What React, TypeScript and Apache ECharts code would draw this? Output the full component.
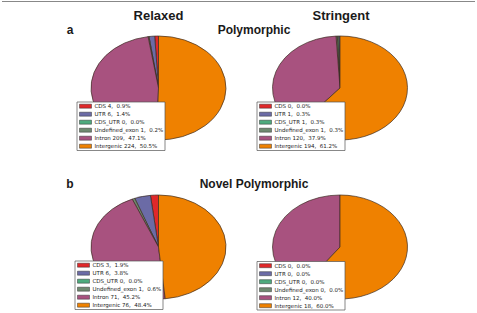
import React, { useEffect, useRef } from "react";
import * as echarts from "echarts";

const categories = ["CDS", "UTR", "CDS_UTR", "Undefined_exon", "Intron", "Intergenic"];
const relaxedPoly = [4, 6, 0, 1, 209, 224];
const stringentPoly = [0, 1, 1, 1, 120, 194];
const relaxedNovel = [3, 6, 0, 1, 71, 76];
const stringentNovel = [0, 0, 0, 0, 12, 18];
const columnTitles = ["Relaxed", "Stringent"];
const panelLetters = ["a", "b"];
const panelTitles = ["Polymorphic", "Novel Polymorphic"];

const colors = ["#e0282a", "#6b6ba6", "#4dab7d", "#6f8a70", "#a8527f", "#ef8100"];

const RY = 52;
const RX = 67.5;

const pies = [
  { name: "relaxedPoly", values: relaxedPoly, cx: 158.5, cy: 88, lx: 77, ly: 102 },
  { name: "stringentPoly", values: stringentPoly, cx: 340, cy: 88, lx: 257, ly: 102 },
  { name: "relaxedNovel", values: relaxedNovel, cx: 158.5, cy: 247, lx: 75, ly: 261 },
  { name: "stringentNovel", values: stringentNovel, cx: 340, cy: 247, lx: 257, ly: 261.5 },
];

function makeSeries(p: any) {
  const total = p.values.reduce((a: number, b: number) => a + b, 0);
  const cum: number[] = [];
  let acc = 0;
  p.values.forEach((v: number) => {
    cum.push(acc);
    acc += v;
  });
  return {
    type: "custom",
    name: p.name,
    coordinateSystem: "none",
    data: p.values.map((v: number) => [v]),
    z: 2,
    renderItem: (params: any, api: any) => {
      const i = params.dataIndex;
      const v = api.value(0);
      if (!v) return null;
      const a0 = -Math.PI / 2 - (cum[i] / total) * Math.PI * 2;
      const a1 = -Math.PI / 2 - ((cum[i] + v) / total) * Math.PI * 2;
      return {
        type: "sector",
        x: p.cx,
        y: p.cy,
        scaleX: RX / RY,
        shape: { cx: 0, cy: 0, r: RY, r0: 0, startAngle: a1, endAngle: a0, clockwise: true },
        style: { fill: colors[i], stroke: "#3a2a20", lineWidth: 0.6, strokeNoScale: true },
      };
    },
  };
}

function makeLegend(p: any) {
  const total = p.values.reduce((a: number, b: number) => a + b, 0);
  const children: any[] = [
    {
      type: "rect",
      z: 100,
      shape: { x: 0, y: 0, width: 88, height: 48.5 },
      style: { fill: "#ffffff", stroke: "#555555", lineWidth: 0.7 },
    },
  ];
  categories.forEach((c, i) => {
    const v = p.values[i];
    const pct = total ? ((v / total) * 100).toFixed(1) : "0.0";
    const yc = 4.2 + i * 8;
    children.push({
      type: "rect",
      z: 101,
      shape: { x: 2.5, y: yc - 2, width: 12, height: 4 },
      style: { fill: colors[i], stroke: "#333333", lineWidth: 0.5 },
    });
    children.push({
      type: "text",
      z: 101,
      x: 17.5,
      y: yc,
      style: {
        text: `${c} ${v},\u00a0 ${pct}%`,
        fill: "#222222",
        font: "5.5px 'DejaVu Sans'",
        verticalAlign: "middle",
      },
    });
  });
  return { type: "group", x: p.lx, y: p.ly, z: 100, children };
}

export default function App() {
  const ref = useRef<HTMLDivElement>(null);
  useEffect(() => {
    if (!ref.current) return;
    const chart = echarts.init(ref.current, null, { renderer: "svg" });
    const titleFont = "bold 13px 'Liberation Sans', Arial, sans-serif";
    const subFont = "bold 12px 'Liberation Sans', Arial, sans-serif";
    const graphics: any[] = [
      {
        type: "line",
        shape: { x1: 2, y1: 1.5, x2: 475, y2: 1.5 },
        style: { stroke: "#888888", lineWidth: 1 },
      },
      {
        type: "text",
        x: 158.5,
        y: 15,
        style: { text: columnTitles[0], font: titleFont, fill: "#1a1a1a", align: "center", verticalAlign: "middle" },
      },
      {
        type: "text",
        x: 341,
        y: 15,
        style: { text: columnTitles[1], font: titleFont, fill: "#1a1a1a", align: "center", verticalAlign: "middle" },
      },
      {
        type: "text",
        x: 70,
        y: 30,
        style: { text: panelLetters[0], font: subFont, fill: "#1a1a1a", align: "center", verticalAlign: "middle" },
      },
      {
        type: "text",
        x: 254,
        y: 30,
        style: { text: panelTitles[0], font: subFont, fill: "#1a1a1a", align: "center", verticalAlign: "middle" },
      },
      {
        type: "text",
        x: 70,
        y: 184,
        style: { text: panelLetters[1], font: subFont, fill: "#1a1a1a", align: "center", verticalAlign: "middle" },
      },
      {
        type: "text",
        x: 254,
        y: 184,
        style: { text: panelTitles[1], font: subFont, fill: "#1a1a1a", align: "center", verticalAlign: "middle" },
      },
      ...pies.map(makeLegend),
    ];
    chart.setOption({
      animation: false,
      backgroundColor: "#ffffff",
      series: pies.map(makeSeries),
      graphic: { elements: graphics },
    });
    return () => chart.dispose();
  }, []);
  return (
    <div
      ref={ref}
      style={{ position: "fixed", left: 0, top: 0, width: 477, height: 313 }}
    />
  );
}
